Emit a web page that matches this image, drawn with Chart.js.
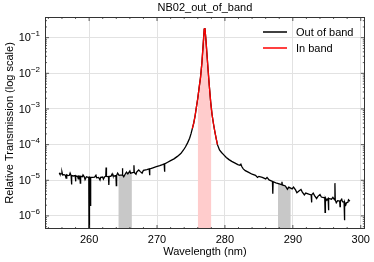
<!DOCTYPE html>
<html>
<head>
<meta charset="utf-8">
<script src="https://cdn.jsdelivr.net/npm/chart.js@4.4.1/dist/chart.umd.min.js"></script>
<style>
  body { margin: 0; background: #fff; }
  canvas { display: block; }
</style>
</head>
<body>
<canvas id="myChart" width="374" height="262"></canvas>
<script>
// wavelength (nm) and log10 of relative transmission
var wl = [
  255.6, 255.7, 255.9, 256.0, 256.1, 256.3, 256.5, 256.6, 256.7, 256.9,
  257.1, 257.2, 257.35, 257.4, 257.45, 257.7, 257.95, 258.0, 258.05, 258.3,
  258.4, 258.5, 258.65, 258.7, 258.75, 259.0, 259.1, 259.3, 259.4, 259.6,
  259.85, 259.95, 260.0, 260.05, 260.15, 260.2, 260.25, 260.5, 260.8, 261.0,
  261.1, 261.4, 261.6, 261.7, 262.0, 262.1, 262.3, 262.45, 262.5, 262.55,
  262.85, 262.9, 262.95, 263.2, 263.4, 263.5, 263.75, 263.95, 264.0, 264.05,
  264.2, 264.4, 264.85, 264.9, 264.95, 265.1, 265.3, 265.5, 265.7, 266.0,
  266.1, 266.55, 266.6, 266.65, 266.9, 267.0, 267.3, 267.5, 267.8, 268.0,
  268.5, 268.85, 268.9, 268.95, 269.4, 269.9, 270.4, 270.8, 271.05, 271.1,
  271.15, 271.5, 272.0, 272.5, 273.0, 273.5, 273.9, 274.2, 274.5, 274.8,
  275.0, 275.2, 275.4, 275.6, 275.8, 276.0, 276.2, 276.4, 276.6, 276.8,
  276.95, 277.05, 277.2, 277.35, 277.5, 277.7, 277.9, 278.1, 278.3, 278.5,
  278.7, 278.9, 279.2, 279.5, 279.8, 280.2, 280.6, 281.0, 281.5, 281.9,
  282.2, 282.35, 282.5, 282.7, 283.0, 283.5, 284.0, 284.5, 284.8, 285.0,
  285.5, 286.0, 286.2, 286.5, 287.0, 287.05, 287.1, 287.5, 288.0, 288.35,
  288.4, 288.45, 288.9, 289.2, 289.4, 289.9, 290.1, 290.4, 290.6, 290.9,
  291.2, 291.4, 291.7, 291.9, 292.35, 292.7, 292.75, 292.8, 293.0, 293.2,
  293.5, 293.7, 294.0, 294.2, 294.7, 294.75, 294.8, 295.0, 295.2, 295.25,
  295.3, 295.7, 295.9, 296.15, 296.2, 296.25, 296.4, 296.6, 296.9, 296.95,
  297.0, 297.2, 297.3, 297.55, 297.6, 297.65, 297.8, 297.9, 298.1, 298.2,
  298.4];
var logT = [
  -4.79, -4.83, -4.82, -4.77, -4.85, -4.84, -4.86, -4.94, -4.85, -4.87,
  -4.86, -4.80, -4.87, -5.12, -4.87, -4.88, -4.87, -5.03, -4.88, -4.89,
  -4.96, -4.88, -4.89, -5.08, -4.89, -4.90, -4.85, -4.91, -4.98, -4.90,
  -4.92, -4.91, -7.50, -4.91, -4.92, -5.72, -4.92, -4.92, -4.91, -4.86,
  -4.93, -4.92, -4.99, -4.92, -4.91, -4.97, -4.90, -4.89, -4.64, -4.89,
  -4.90, -5.13, -4.89, -4.89, -4.82, -4.87, -4.88, -4.87, -5.15, -4.86,
  -4.80, -4.86, -4.85, -4.66, -4.85, -4.90, -4.83, -4.77, -4.82, -4.74,
  -4.80, -4.78, -4.58, -4.78, -4.83, -4.77, -4.71, -4.75, -4.80, -4.72,
  -4.70, -4.68, -4.86, -4.68, -4.65, -4.62, -4.59, -4.56, -4.54, -4.76,
  -4.54, -4.50, -4.45, -4.40, -4.33, -4.25, -4.15, -4.06, -3.95, -3.82,
  -3.70, -3.55, -3.40, -3.20, -2.95, -2.70, -2.40, -2.12, -1.72, -1.18,
  -0.76, -0.73, -1.05, -1.45, -1.85, -2.35, -2.80, -3.15, -3.40, -3.62,
  -3.82, -4.00, -4.15, -4.22, -4.28, -4.36, -4.42, -4.47, -4.52, -4.56,
  -4.58, -4.55, -4.62, -4.68, -4.73, -4.78, -4.83, -4.86, -4.92, -4.89,
  -4.92, -4.96, -4.92, -4.99, -5.03, -5.38, -5.04, -5.07, -5.10, -5.12,
  -5.04, -5.13, -5.16, -5.25, -5.19, -5.24, -5.19, -5.27, -5.35, -5.30,
  -5.26, -5.33, -5.41, -5.36, -5.39, -5.41, -5.62, -5.41, -5.36, -5.43,
  -5.51, -5.45, -5.40, -5.47, -5.49, -5.90, -5.49, -5.56, -5.51, -5.84,
  -5.51, -5.53, -5.48, -5.55, -5.08, -5.55, -5.63, -5.57, -5.58, -5.74,
  -5.58, -5.53, -5.60, -5.61, -6.12, -5.61, -5.69, -5.63, -5.62, -5.55,
  -5.59];

// in-band range drawn in red
var inBandRange = [275.2, 279.0];

// shaded bands: [start, end] in nm, and log10 transmission at each edge
var bandRanges = [[264.3, 266.3], [276.0, 278.0], [287.8, 289.7]];
var bandEdgeLogT = [[-4.86, -4.79], [-2.70, -2.98], [-5.09, -5.22]];
var bandColors = ['#c8c8c8', '#ffcccc', '#c8c8c8'];

var xTicks = [260, 270, 280, 290, 300];
var yTicks = [1e-6, 1e-5, 1e-4, 1e-3, 1e-2, 1e-1];
var yTickSup = ['\u22126', '\u22125', '\u22124', '\u22123', '\u22122', '\u22121'];

var allPoints = wl.map(function (x, i) { return { x: x, y: Math.pow(10, logT[i]) }; });

var inBandPoints = allPoints.filter(function (p) {
  return p.x >= inBandRange[0] && p.x <= inBandRange[1];
});

function bandPoints(k) {
  var lo = bandRanges[k][0], hi = bandRanges[k][1];
  var pts = [{ x: lo, y: Math.pow(10, bandEdgeLogT[k][0]) }];
  allPoints.forEach(function (p) {
    if (p.x > lo && p.x < hi) pts.push(p);
  });
  pts.push({ x: hi, y: Math.pow(10, bandEdgeLogT[k][1]) });
  return pts;
}

var datasets = [
  {
    label: 'In band',
    data: inBandPoints,
    borderColor: '#ff0000',
    borderWidth: 1.3,
    pointRadius: 0,
    fill: false,
    order: 1
  },
  {
    label: 'Out of band',
    data: allPoints,
    borderColor: '#000000',
    borderWidth: 1.3,
    pointRadius: 0,
    fill: false,
    order: 2
  }
];
bandRanges.forEach(function (r, k) {
  datasets.push({
    label: 'band' + k,
    data: bandPoints(k),
    borderWidth: 0,
    borderColor: 'rgba(0,0,0,0)',
    backgroundColor: bandColors[k],
    pointRadius: 0,
    fill: 'start',
    order: 3
  });
});

var FONT = 'Liberation Sans, Arial, Helvetica, sans-serif';

var decorPlugin = {
  id: 'decor',
  afterDatasetsDraw: function (chart) {
    var ctx = chart.ctx;
    var a = chart.chartArea;
    var xs = chart.scales.x, ys = chart.scales.y;
    ctx.save();

    // inward ticks on all four sides
    ctx.strokeStyle = '#333';
    ctx.lineWidth = 0.8;
    function vtick(x, len) {
      ctx.beginPath();
      ctx.moveTo(x, a.bottom); ctx.lineTo(x, a.bottom - len);
      ctx.moveTo(x, a.top); ctx.lineTo(x, a.top + len);
      ctx.stroke();
    }
    function htick(y, len) {
      ctx.beginPath();
      ctx.moveTo(a.left, y); ctx.lineTo(a.left + len, y);
      ctx.moveTo(a.right, y); ctx.lineTo(a.right - len, y);
      ctx.stroke();
    }
    for (var v = 254; v <= 300; v += 2) {
      var px = xs.getPixelForValue(v);
      vtick(px, v % 10 === 0 ? 4 : 2);
    }
    for (var n = -7; n <= 0; n++) {
      for (var k = 1; k <= 9; k++) {
        var val = k * Math.pow(10, n);
        if (val < ys.min || val > ys.max) continue;
        htick(ys.getPixelForValue(val), k === 1 ? 4 : 2);
      }
    }

    // frame
    ctx.lineWidth = 1;
    ctx.strokeStyle = '#333';
    ctx.strokeRect(Math.round(a.left) + 0.5, Math.round(a.top) + 0.5,
      Math.round(a.right - a.left) - 1, Math.round(a.bottom - a.top) - 1);

    // y tick labels as 10^n
    ctx.fillStyle = '#000';
    ctx.textBaseline = 'middle';
    yTicks.forEach(function (t, i) {
      var y = ys.getPixelForValue(t);
      ctx.font = '8px ' + FONT;
      var sw = ctx.measureText(yTickSup[i]).width;
      var right = a.left - 5;
      ctx.textAlign = 'left';
      ctx.fillText(yTickSup[i], right - sw, y - 4);
      ctx.font = '11px ' + FONT;
      ctx.textAlign = 'right';
      ctx.fillText('10', right - sw, y + 0.5);
    });

    // title
    ctx.font = '11px ' + FONT;
    ctx.textAlign = 'center';
    ctx.fillText('NB02_out_of_band', (a.left + a.right) / 2, 8);

    // legend
    var leg = [['Out of band', '#000000', 32], ['In band', '#ff0000', 48]];
    leg.forEach(function (l) {
      ctx.strokeStyle = l[1];
      ctx.lineWidth = 1.5;
      ctx.beginPath();
      ctx.moveTo(263, l[2]); ctx.lineTo(287, l[2]);
      ctx.stroke();
      ctx.textAlign = 'left';
      ctx.fillStyle = '#000';
      ctx.font = '11px ' + FONT;
      ctx.fillText(l[0], 296, l[2] + 0.5);
    });

    ctx.restore();
  }
};

var config = {
  type: 'line',
  data: { datasets: datasets },
  options: {
    responsive: false,
    animation: false,
    devicePixelRatio: 1,
    layout: { padding: { top: 17, right: 8, left: 0, bottom: 0 } },
    plugins: {
      legend: { display: false },
      title: { display: false },
      tooltip: { enabled: false },
      filler: { drawTime: 'beforeDatasetsDraw' }
    },
    scales: {
      x: {
        type: 'linear',
        min: 253.5,
        max: 300.6,
        afterBuildTicks: function (scale) {
          scale.ticks = xTicks.map(function (v) { return { value: v }; });
        },
        afterFit: function (scale) { scale.height = 33; },
        grid: { color: '#e2e2e2', lineWidth: 1, drawTicks: false },
        border: { display: false },
        ticks: {
          color: '#000',
          font: { size: 11, family: FONT },
          padding: 4,
          maxRotation: 0
        },
        title: {
          display: true,
          text: 'Wavelength (nm)',
          color: '#000',
          font: { size: 11, family: FONT },
          padding: { top: 0, bottom: 3 }
        }
      },
      y: {
        type: 'logarithmic',
        min: 4.3e-7,
        max: 0.38,
        afterBuildTicks: function (scale) {
          scale.ticks = yTicks.map(function (v) { return { value: v }; });
        },
        afterFit: function (scale) { scale.width = 45; },
        grid: { color: '#e2e2e2', lineWidth: 1, drawTicks: false },
        border: { display: false },
        ticks: { display: false },
        title: {
          display: true,
          text: 'Relative Transmission (log scale)',
          color: '#000',
          font: { size: 11, family: FONT },
          padding: { top: 3, bottom: 0 }
        }
      }
    }
  },
  plugins: [decorPlugin]
};

var ctx = document.getElementById('myChart').getContext('2d');
var currentChart = new Chart(ctx, config);
</script>
</body>
</html>
